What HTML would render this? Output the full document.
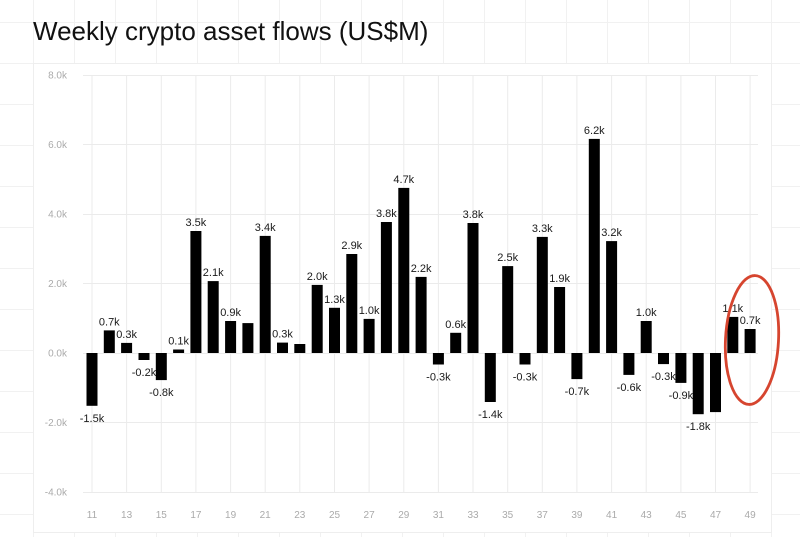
<!DOCTYPE html>
<html>
<head>
<meta charset="utf-8">
<style>
html,body{margin:0;padding:0;background:#fff;}
svg{display:block;}
</style>
</head>
<body>
<svg width="800" height="537" viewBox="0 0 800 537" xmlns="http://www.w3.org/2000/svg" font-family="'Liberation Sans', Arial, sans-serif">
<rect x="0" y="0" width="800" height="537" fill="#ffffff"/>
<!-- background graph paper -->
<g stroke="#f1f1f1" stroke-width="1">
<line x1="33.5" y1="0" x2="33.5" y2="537"/><line x1="74.5" y1="0" x2="74.5" y2="537"/><line x1="115.5" y1="0" x2="115.5" y2="537"/><line x1="156.5" y1="0" x2="156.5" y2="537"/><line x1="197.5" y1="0" x2="197.5" y2="537"/><line x1="238.5" y1="0" x2="238.5" y2="537"/><line x1="279.5" y1="0" x2="279.5" y2="537"/><line x1="320.5" y1="0" x2="320.5" y2="537"/><line x1="361.5" y1="0" x2="361.5" y2="537"/><line x1="402.5" y1="0" x2="402.5" y2="537"/><line x1="443.5" y1="0" x2="443.5" y2="537"/><line x1="484.5" y1="0" x2="484.5" y2="537"/><line x1="525.5" y1="0" x2="525.5" y2="537"/><line x1="566.5" y1="0" x2="566.5" y2="537"/><line x1="607.5" y1="0" x2="607.5" y2="537"/><line x1="648.5" y1="0" x2="648.5" y2="537"/><line x1="689.5" y1="0" x2="689.5" y2="537"/><line x1="730.5" y1="0" x2="730.5" y2="537"/><line x1="771.5" y1="0" x2="771.5" y2="537"/>
<line x1="0" y1="22.5" x2="800" y2="22.5"/><line x1="0" y1="63.5" x2="800" y2="63.5"/><line x1="0" y1="104.5" x2="800" y2="104.5"/><line x1="0" y1="145.5" x2="800" y2="145.5"/><line x1="0" y1="186.5" x2="800" y2="186.5"/><line x1="0" y1="227.5" x2="800" y2="227.5"/><line x1="0" y1="268.5" x2="800" y2="268.5"/><line x1="0" y1="309.5" x2="800" y2="309.5"/><line x1="0" y1="350.5" x2="800" y2="350.5"/><line x1="0" y1="391.5" x2="800" y2="391.5"/><line x1="0" y1="432.5" x2="800" y2="432.5"/><line x1="0" y1="473.5" x2="800" y2="473.5"/><line x1="0" y1="514.5" x2="800" y2="514.5"/>
</g>
<!-- title background -->
<text x="33" y="40" font-size="26" fill="#111">Weekly crypto asset flows (US$M)</text>
<!-- card -->
<rect x="33.5" y="63.5" width="738" height="469" fill="#ffffff" stroke="#eeeeee" stroke-width="1"/>
<!-- chart gridlines -->
<g stroke="#ebebeb" stroke-width="1">
<line x1="83" y1="75.5" x2="758" y2="75.5"/><line x1="83" y1="144.5" x2="758" y2="144.5"/><line x1="83" y1="214.5" x2="758" y2="214.5"/><line x1="83" y1="283.5" x2="758" y2="283.5"/><line x1="83" y1="353.5" x2="758" y2="353.5"/><line x1="83" y1="422.5" x2="758" y2="422.5"/><line x1="83" y1="492.5" x2="758" y2="492.5"/>
<line x1="92" y1="75" x2="92" y2="492"/><line x1="126.6" y1="75" x2="126.6" y2="492"/><line x1="161.3" y1="75" x2="161.3" y2="492"/><line x1="195.9" y1="75" x2="195.9" y2="492"/><line x1="230.6" y1="75" x2="230.6" y2="492"/><line x1="265.2" y1="75" x2="265.2" y2="492"/><line x1="299.8" y1="75" x2="299.8" y2="492"/><line x1="334.5" y1="75" x2="334.5" y2="492"/><line x1="369.1" y1="75" x2="369.1" y2="492"/><line x1="403.8" y1="75" x2="403.8" y2="492"/><line x1="438.4" y1="75" x2="438.4" y2="492"/><line x1="473" y1="75" x2="473" y2="492"/><line x1="507.7" y1="75" x2="507.7" y2="492"/><line x1="542.3" y1="75" x2="542.3" y2="492"/><line x1="576.9" y1="75" x2="576.9" y2="492"/><line x1="611.6" y1="75" x2="611.6" y2="492"/><line x1="646.2" y1="75" x2="646.2" y2="492"/><line x1="680.9" y1="75" x2="680.9" y2="492"/><line x1="715.5" y1="75" x2="715.5" y2="492"/><line x1="750.1" y1="75" x2="750.1" y2="492"/>
</g>
<!-- y labels -->
<g font-size="10" fill="#aaaaaa" text-anchor="end">
<text x="67" y="78.5">8.0k</text><text x="67" y="148">6.0k</text><text x="67" y="217.5">4.0k</text><text x="67" y="287">2.0k</text><text x="67" y="356.5">0.0k</text><text x="67" y="426">-2.0k</text><text x="67" y="495.5">-4.0k</text>
</g>
<!-- x labels -->
<g font-size="10" fill="#aaaaaa" text-anchor="middle">
<text x="92" y="518">11</text><text x="126.6" y="518">13</text><text x="161.3" y="518">15</text><text x="195.9" y="518">17</text><text x="230.6" y="518">19</text><text x="265.2" y="518">21</text><text x="299.8" y="518">23</text><text x="334.5" y="518">25</text><text x="369.1" y="518">27</text><text x="403.8" y="518">29</text><text x="438.4" y="518">31</text><text x="473" y="518">33</text><text x="507.7" y="518">35</text><text x="542.3" y="518">37</text><text x="576.9" y="518">39</text><text x="611.6" y="518">41</text><text x="646.2" y="518">43</text><text x="680.9" y="518">45</text><text x="715.5" y="518">47</text><text x="750.1" y="518">49</text>
</g>
<!-- bars -->
<g fill="#000">
<rect x="86.5" y="353" width="11" height="52.8"/>
<rect x="103.8" y="330.4" width="11" height="22.6"/>
<rect x="121.1" y="342.9" width="11" height="10.1"/>
<rect x="138.5" y="353" width="11" height="7"/>
<rect x="155.8" y="353" width="11" height="27.1"/>
<rect x="173.1" y="349.5" width="11" height="3.5"/>
<rect x="190.4" y="231" width="11" height="122"/>
<rect x="207.7" y="281.1" width="11" height="71.9"/>
<rect x="225.1" y="321" width="11" height="32"/>
<rect x="242.4" y="323.1" width="11" height="29.9"/>
<rect x="259.7" y="235.9" width="11" height="117.1"/>
<rect x="277" y="342.6" width="11" height="10.4"/>
<rect x="294.3" y="344" width="11" height="9"/>
<rect x="311.7" y="284.9" width="11" height="68.1"/>
<rect x="329" y="307.8" width="11" height="45.2"/>
<rect x="346.3" y="254" width="11" height="99"/>
<rect x="363.6" y="318.9" width="11" height="34.1"/>
<rect x="380.9" y="222" width="11" height="131"/>
<rect x="398.3" y="187.9" width="11" height="165.1"/>
<rect x="415.6" y="276.9" width="11" height="76.1"/>
<rect x="432.9" y="353" width="11" height="11.5"/>
<rect x="450.2" y="332.8" width="11" height="20.2"/>
<rect x="467.5" y="223" width="11" height="130"/>
<rect x="484.8" y="353" width="11" height="49"/>
<rect x="502.2" y="266.1" width="11" height="86.9"/>
<rect x="519.5" y="353" width="11" height="11.5"/>
<rect x="536.8" y="236.9" width="11" height="116.1"/>
<rect x="554.1" y="287" width="11" height="66"/>
<rect x="571.4" y="353" width="11" height="26.1"/>
<rect x="588.8" y="138.9" width="11" height="214.1"/>
<rect x="606.1" y="241.1" width="11" height="111.9"/>
<rect x="623.4" y="353" width="11" height="21.9"/>
<rect x="640.7" y="321" width="11" height="32"/>
<rect x="658" y="353" width="11" height="11.1"/>
<rect x="675.4" y="353" width="11" height="29.9"/>
<rect x="692.7" y="353" width="11" height="61.2"/>
<rect x="710" y="353" width="11" height="59.1"/>
<rect x="727.3" y="316.9" width="11" height="36.1"/>
<rect x="744.6" y="329" width="11" height="24"/>
</g>
<!-- value labels -->
<g font-size="11" fill="#1a1a1a" text-anchor="middle">
<text x="92" y="421.8">-1.5k</text>
<text x="109.3" y="325.4">0.7k</text>
<text x="126.6" y="337.9">0.3k</text>
<text x="144" y="376">-0.2k</text>
<text x="161.3" y="396.1">-0.8k</text>
<text x="178.6" y="344.5">0.1k</text>
<text x="195.9" y="226">3.5k</text>
<text x="213.2" y="276.1">2.1k</text>
<text x="230.6" y="316">0.9k</text>
<text x="265.2" y="230.9">3.4k</text>
<text x="282.5" y="337.6">0.3k</text>
<text x="317.2" y="279.9">2.0k</text>
<text x="334.5" y="302.8">1.3k</text>
<text x="351.8" y="249">2.9k</text>
<text x="369.1" y="313.9">1.0k</text>
<text x="386.4" y="217">3.8k</text>
<text x="403.8" y="182.9">4.7k</text>
<text x="421.1" y="271.9">2.2k</text>
<text x="438.4" y="380.5">-0.3k</text>
<text x="455.7" y="327.8">0.6k</text>
<text x="473" y="218">3.8k</text>
<text x="490.3" y="418">-1.4k</text>
<text x="507.7" y="261.1">2.5k</text>
<text x="525" y="380.5">-0.3k</text>
<text x="542.3" y="231.9">3.3k</text>
<text x="559.6" y="282">1.9k</text>
<text x="576.9" y="395.1">-0.7k</text>
<text x="594.3" y="133.9">6.2k</text>
<text x="611.6" y="236.1">3.2k</text>
<text x="628.9" y="390.9">-0.6k</text>
<text x="646.2" y="316">1.0k</text>
<text x="663.5" y="380.1">-0.3k</text>
<text x="680.9" y="398.9">-0.9k</text>
<text x="698.2" y="430.2">-1.8k</text>
<text x="732.8" y="311.9">1.1k</text>
<text x="750.1" y="324">0.7k</text>
</g>
<!-- red highlight ellipse -->
<ellipse cx="752" cy="340" rx="26.5" ry="64.5" transform="rotate(3 752 340)" fill="none" stroke="#d6452f" stroke-width="2.8"/>
</svg>
</body>
</html>
